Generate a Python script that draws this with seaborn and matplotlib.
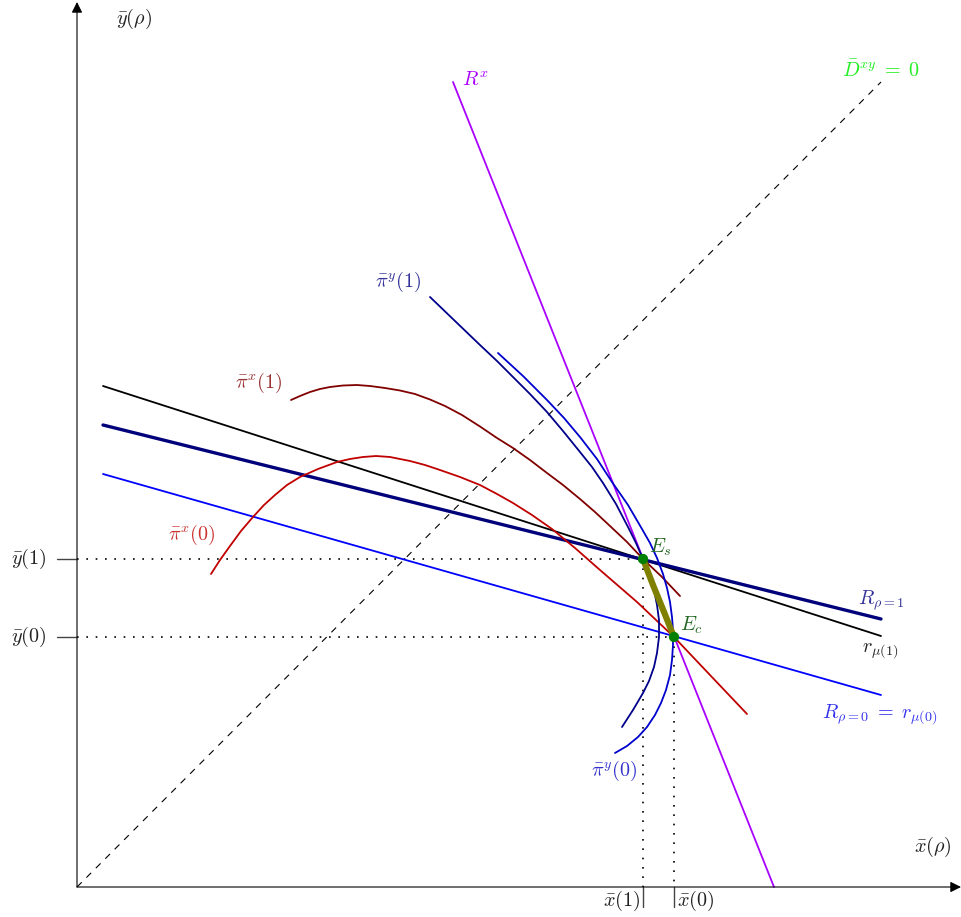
import numpy as np
import matplotlib
matplotlib.use('Agg')
import matplotlib.pyplot as plt
import seaborn as sns

# equilibrium values, index 0 -> rho=0, index 1 -> rho=1
xbar = [5.97, 5.66]
ybar = [2.50, 3.28]

# straight lines (end points)
r_mu1_x, r_mu1_y = [0.26, 8.04], [5.01, 2.51]
R_rho1_x, R_rho1_y = [0.26, 8.04], [4.62, 2.68]
R_rho0_x, R_rho0_y = [0.26, 8.04], [4.13, 1.92]
Rx_x, Rx_y = [3.76, 6.97], [8.05, 0.0]
diag_x, diag_y = [0.0, 8.04], [0.0, 8.05]

# iso-profit curves
pi_y1_x = [3.53, 3.78, 4.03, 4.20, 4.36, 4.53, 4.70, 4.86, 5.03, 5.15, 5.26, 5.39, 5.51,
           5.59, 5.66, 5.72, 5.77, 5.80, 5.82, 5.82, 5.80, 5.77, 5.72, 5.66, 5.56, 5.45]
pi_y1_y = [5.90, 5.66, 5.42, 5.26, 5.10, 4.93, 4.75, 4.56, 4.35, 4.20, 4.04, 3.83, 3.60,
           3.44, 3.28, 3.13, 2.97, 2.82, 2.67, 2.50, 2.34, 2.20, 2.06, 1.94, 1.77, 1.60]

pi_y0_x = [4.21, 4.46, 4.70, 4.87, 5.03, 5.20, 5.35, 5.51, 5.65, 5.73, 5.80, 5.86, 5.90,
           5.93, 5.95, 5.96, 5.96, 5.95, 5.93, 5.89, 5.84, 5.78, 5.70, 5.61, 5.50, 5.38]
pi_y0_y = [5.34, 5.11, 4.87, 4.69, 4.50, 4.28, 4.05, 3.82, 3.58, 3.44, 3.29, 3.13, 2.99,
           2.85, 2.70, 2.57, 2.42, 2.27, 2.12, 1.97, 1.84, 1.72, 1.60, 1.50, 1.41, 1.34]

pi_x1_x = [2.14, 2.23, 2.33, 2.43, 2.53, 2.66, 2.80, 2.93, 3.08, 3.23, 3.38, 3.53, 3.68,
           3.85, 4.03, 4.20, 4.36, 4.53, 4.70, 4.86, 5.03, 5.18, 5.33, 5.50, 5.66, 5.85, 6.03]
pi_x1_y = [4.87, 4.91, 4.95, 4.98, 5.00, 5.015, 5.02, 5.01, 4.99, 4.965, 4.93, 4.875, 4.81,
           4.72, 4.605, 4.49, 4.39, 4.27, 4.14, 4.02, 3.88, 3.75, 3.61, 3.45, 3.28, 3.10, 2.91]

pi_x0_x = [1.34, 1.43, 1.53, 1.64, 1.76, 1.87, 1.98, 2.10, 2.23, 2.41, 2.60, 2.73, 2.86,
           2.99, 3.13, 3.33, 3.48, 3.63, 3.83, 4.03, 4.20, 4.36, 4.55, 4.75, 4.98, 5.23,
           5.60, 5.97, 6.33, 6.70]
pi_x0_y = [3.13, 3.27, 3.41, 3.56, 3.70, 3.82, 3.92, 4.02, 4.10, 4.18, 4.25, 4.28, 4.30,
           4.31, 4.30, 4.26, 4.22, 4.17, 4.10, 4.02, 3.93, 3.84, 3.72, 3.58, 3.39, 3.17,
           2.85, 2.50, 2.12, 1.73]

# path of equilibria from E_s to E_c
path_x = [5.66, 5.76, 5.87, 5.97]
path_y = [3.28, 3.02, 2.75, 2.50]

sns.set_theme(style='white')
plt.rcParams['mathtext.fontset'] = 'cm'
plt.rcParams['font.family'] = ['DejaVu Serif']

fig = plt.figure(figsize=(9.61, 9.17), dpi=100)
ax = fig.add_axes([0, 0, 1, 1])
ax.set_xlim(-0.77, 8.84)
ax.set_ylim(-0.30, 8.87)
ax.axis('off')


def line(x, y, color, lw=1.3, **kw):
    sns.lineplot(x=x, y=y, sort=False, estimator=None, color=color, lw=lw, ax=ax,
                 solid_joinstyle='round', **kw)


# axes with arrows
for tip in [(8.84, 0), (0, 8.85)]:
    ax.annotate('', xy=tip, xytext=(0, 0),
                arrowprops=dict(arrowstyle='-|>', color='black', lw=0.8, mutation_scale=16,
                                shrinkA=0, shrinkB=0))

# dotted guides and ticks
dot = (0, (1, 4.6))
for xb, yb in zip(xbar, ybar):
    line([0, xb], [yb, yb], 'black', lw=1.2, linestyle=dot)
    line([xb, xb], [yb, 0], 'black', lw=1.2, linestyle=dot)
    line([-0.20, 0], [yb, yb], '#444444', lw=1.0)
    line([xb, xb], [0, -0.20], '#444444', lw=1.0)

line(diag_x, diag_y, 'black', lw=0.8, linestyle=(0, (6, 6)))

line(r_mu1_x, r_mu1_y, 'black', lw=1.3)
line(R_rho1_x, R_rho1_y, '#00007a', lw=2.4)
line(R_rho0_x, R_rho0_y, '#0000ff', lw=1.3)
line(Rx_x, Rx_y, '#aa00ff', lw=1.3)

line(pi_x1_x, pi_x1_y, '#800000', lw=1.3)
line(pi_x0_x, pi_x0_y, '#c00000', lw=1.3)
line(pi_y1_x, pi_y1_y, '#00008b', lw=1.3)
line(pi_y0_x, pi_y0_y, '#0000cd', lw=1.3)

line(path_x, path_y, '#808000', lw=4.5, solid_capstyle='butt')
sns.scatterplot(x=[xbar[1], xbar[0]], y=[ybar[1], ybar[0]], color='#008000', s=55,
                edgecolor='none', ax=ax, zorder=5)

fs = 14.5
kw = dict(fontsize=fs, va='center')
ax.text(0.57, 8.68, r'$\bar{y}(\rho)$', ha='center', color='#222222', **kw)
ax.text(8.56, 0.40, r'$\bar{x}(\rho)$', ha='center', color='#222222', **kw)
ax.text(3.85, 8.06, r'$R^x$', ha='left', color='#aa00ff', **kw)
ax.text(8.04, 8.17, r'$\bar{D}^{xy}\;=\;0$', ha='center', color='#22ee22', **kw)
ax.text(3.21, 6.05, r'$\bar{\pi}^y(1)$', ha='center', color='#333399', **kw)
ax.text(1.82, 5.04, r'$\bar{\pi}^x(1)$', ha='center', color='#993333', **kw)
ax.text(1.15, 3.52, r'$\bar{\pi}^x(0)$', ha='center', color='#cc3333', **kw)
ax.text(5.37, 1.16, r'$\bar{\pi}^y(0)$', ha='center', color='#3333cc', **kw)
ax.text(5.72, 3.40, r'$E_s$', ha='left', color='#226622', **kw)
ax.text(6.03, 2.62, r'$E_c$', ha='left', color='#226622', **kw)
ax.text(8.04, 2.87, r'$R_{\rho=1}$', ha='center', color='#333399', **kw)
ax.text(8.03, 2.36, r'$r_{\mu(1)}$', ha='center', color='#222222', **kw)
ax.text(8.03, 1.73, r'$R_{\rho=0}\;=\;r_{\mu(0)}$', ha='center', color='#3333ee', **kw)
for i, (xb, yb) in enumerate(zip(xbar, ybar)):
    ax.text(-0.48, yb, r'$\bar{y}(%d)$' % i, ha='center', color='#222222', **kw)
ax.text(xbar[1] - 0.03, -0.14, r'$\bar{x}(1)$', ha='right', color='#222222', **kw)
ax.text(xbar[0] + 0.03, -0.14, r'$\bar{x}(0)$', ha='left', color='#222222', **kw)

fig.savefig('out.png', dpi=100)
